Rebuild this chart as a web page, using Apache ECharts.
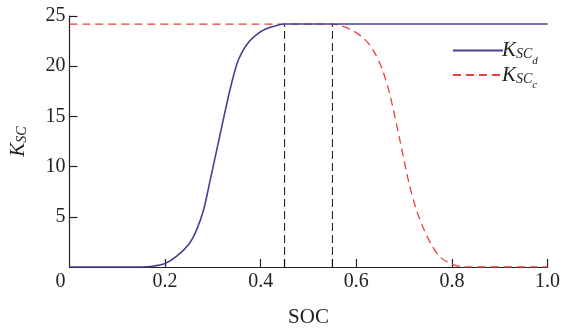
<!DOCTYPE html>
<html><head><meta charset="utf-8">
<script src="https://cdn.jsdelivr.net/npm/echarts@6/dist/echarts.min.js"></script>
<style>html,body{margin:0;padding:0;background:#fff}#c{width:563px;height:333px}</style>
</head><body><div id="c"></div>
<script>
const blueX = [0, 0.15, 0.17, 0.2, 0.225, 0.25, 0.265, 0.28, 0.295, 0.315, 0.335, 0.35, 0.36, 0.375, 0.39, 0.41, 0.43, 0.45, 1.0];
const blueY = [0, 0, 0.05, 0.35, 1.1, 2.3, 3.6, 5.6, 8.8, 13.2, 17.5, 20.2, 21.3, 22.4, 23.1, 23.7, 24.0, 24.2, 24.2];
const redX = [0, 0.55, 0.57, 0.59, 0.61, 0.625, 0.64, 0.655, 0.67, 0.69, 0.71, 0.725, 0.74, 0.755, 0.775, 0.8, 0.82, 0.84, 1.0];
const redY = [24.2, 24.2, 24.0, 23.6, 23.0, 22.3, 21.2, 19.6, 17.2, 12.9, 8.4, 5.8, 3.9, 2.4, 1.0, 0.3, 0.03, 0, 0];
const guideX = [0.45, 0.55];
const guideTop = 24.2;
const xTickValues = [0.2, 0.4, 0.45, 0.55, 0.6, 0.8, 1.0];
const xLabelValues = [0, 0.2, 0.4, 0.6, 0.8, 1.0];
const xLabelText = ['0', '0.2', '0.4', '0.6', '0.8', '1.0'];
const yTickValues = [5, 10, 15, 20, 25];

const FONT = '"Liberation Serif","Times New Roman",serif';
const pair = (xs, ys) => xs.map((x, i) => [x, ys[i]]);

const chart = echarts.init(document.getElementById('c'));
const guideSeries = guideX.map(g => ({
  type: 'line', data: [[g, 0], [g, guideTop]], symbol: 'none', silent: true,
  lineStyle: { color: '#111', width: 1, type: [8, 4] }, z: 1
}));
const subRich = {
  k: { fontFamily: FONT, fontStyle: 'italic', fontSize: 21, color: '#222', lineHeight: 26, verticalAlign: 'middle' },
  s: { fontFamily: FONT, fontStyle: 'italic', fontSize: 14, color: '#222', lineHeight: 14, verticalAlign: 'bottom', padding: [0, 0, 2, 0] },
  t: { fontFamily: FONT, fontStyle: 'italic', fontSize: 11, color: '#222', lineHeight: 11, verticalAlign: 'bottom', padding: [0, 0, -3, 0] }
};
chart.setOption({
  animation: false,
  grid: { left: 69, right: 15, top: 16, bottom: 65 },
  legend: {
    orient: 'vertical', left: 447, top: 35, itemWidth: 50, itemHeight: 12, itemGap: -2,
    data: ['d', 'c'],
    itemStyle: { opacity: 0 },
    formatter: n => '{k|K}{s|SC}{t|' + n + '}',
    textStyle: { rich: subRich, padding: [0, 0, 0, -6] }
  },
  xAxis: {
    type: 'value', min: 0, max: 1, interval: 0.05,
    name: 'SOC', nameLocation: 'middle', nameGap: 40,
    nameTextStyle: { fontFamily: FONT, fontSize: 21, color: '#222' },
    axisLine: { lineStyle: { color: '#222', width: 1.2 } },
    axisTick: { inside: true, length: 8, customValues: xTickValues, lineStyle: { color: '#222', width: 1.2 } },
    axisLabel: {
      customValues: xLabelValues, margin: 5,
      formatter: v => {
        const i = xLabelValues.findIndex(x => Math.abs(x - v) < 1e-9);
        const t = i >= 0 ? xLabelText[i] : '';
        return v === 0 ? '{z|' + t + '}' : t;
      },
      fontFamily: FONT, fontSize: 20, color: '#222',
      rich: { z: { fontFamily: FONT, fontSize: 20, color: '#222', padding: [0, 18, 0, 0] } }
    },
    splitLine: { show: false }
  },
  yAxis: {
    type: 'value', min: 0, max: 25, interval: 5,
    name: '{k|K}{s|SC}', nameLocation: 'middle', nameGap: 38,
    nameTextStyle: { rich: subRich },
    axisLine: { show: true, lineStyle: { color: '#222', width: 1.2 } },
    axisTick: { inside: true, length: 8, customValues: yTickValues, lineStyle: { color: '#222', width: 1.2 } },
    axisLabel: {
      customValues: yTickValues, margin: 4,
      fontFamily: FONT, fontSize: 20, color: '#222'
    },
    splitLine: { show: false }
  },
  series: [
    ...guideSeries,
    { name: 'c', type: 'line', data: pair(redX, redY), symbol: 'none', smooth: 0.3,
      lineStyle: { color: '#e8413c', width: 1.3, type: [8, 5] }, itemStyle: { color: '#e8413c' }, z: 2 },
    { name: 'd', type: 'line', data: pair(blueX, blueY), symbol: 'none', smooth: 0.3,
      lineStyle: { color: '#4a3f92', width: 1.6 }, itemStyle: { color: '#4a3f92' }, z: 3 }
  ]
});
</script></body></html>
